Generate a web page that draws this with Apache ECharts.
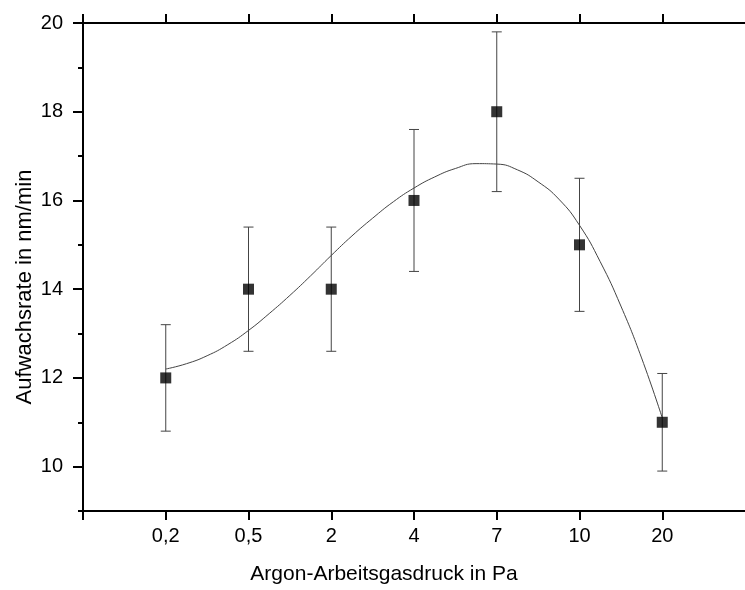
<!DOCTYPE html>
<html>
<head>
<meta charset="utf-8">
<script src="https://cdn.jsdelivr.net/npm/echarts@6/dist/echarts.min.js"></script>
<style>
html,body{margin:0;padding:0;background:#fff;}
#chart{width:745px;height:590px;}
</style>
</head>
<body>
<div id="chart"></div>
<script>
// Categories (pressure in Pa) placed at positions 1..7
var categories = ['0,2', '0,5', '2', '4', '7', '10', '20'];
var positions = [1, 2, 3, 4, 5, 6, 7];
// Measured growth rate (nm/min) and error (+/-)
var rates = [12, 14, 14, 16, 18, 15, 11];
var errors = [1.2, 1.4, 1.4, 1.6, 1.8, 1.5, 1.1];
// Fit curve (position, value)
var curveX = [1.0, 1.25, 1.5, 1.75, 2.0, 2.25, 2.5, 2.75, 3.0, 3.25, 3.5, 3.75, 4.0, 4.25, 4.5, 4.75, 5.0, 5.25, 5.5, 5.75, 6.0, 6.25, 6.5, 6.75, 7.0];
var curveY = [12.2, 12.32, 12.5, 12.75, 13.07, 13.45, 13.86, 14.3, 14.76, 15.2, 15.6, 15.97, 16.28, 16.53, 16.72, 16.83, 16.82, 16.69, 16.42, 16.03, 15.44, 14.62, 13.62, 12.45, 11.1];
// Tick positions
var xTickPositions = [0, 1, 2, 3, 4, 5, 6, 7];
var yTicks = [10, 12, 14, 16, 18, 20];

var chart = echarts.init(document.getElementById('chart'), null, {renderer: 'canvas'});

var pointData = positions.map(function (p, i) { return [p, rates[i]]; });
var errData = positions.map(function (p, i) { return [p, rates[i] - errors[i], rates[i] + errors[i]]; });
var curveData = curveX.map(function (x, i) { return [x, curveY[i]]; });

var font = 'Liberation Sans, Arial, sans-serif';

var option = {
  animation: false,
  backgroundColor: '#ffffff',
  grid: {left: 83, right: 0, top: 23, bottom: 77, containLabel: false},
  xAxis: [{
    type: 'value', min: 0, max: 8, interval: 1, position: 'bottom',
    name: 'Argon-Arbeitsgasdruck in Pa', nameLocation: 'middle', nameGap: 53, nameMoveOverlap: false,
    nameTextStyle: {fontSize: 21, color: '#000', fontFamily: font, padding: [0, 60, 0, 0]},
    axisLine: {show: true, lineStyle: {color: '#000', width: 2}},
    axisTick: {show: true, inside: false, length: 9, customValues: xTickPositions, lineStyle: {color: '#000', width: 2}},
    axisLabel: {
      margin: 15, fontSize: 20, color: '#000', fontFamily: font, customValues: positions,
      formatter: function (v) { return categories[v - 1] || ''; }
    },
    splitLine: {show: false}
  }, {
    type: 'value', min: 0, max: 8, interval: 1, position: 'top',
    axisLine: {show: true, lineStyle: {color: '#000', width: 2}},
    axisTick: {show: true, inside: false, length: 9, customValues: xTickPositions, lineStyle: {color: '#000', width: 2}},
    axisLabel: {show: false},
    splitLine: {show: false}
  }],
  yAxis: [{
    type: 'value', min: 9, max: 20, interval: 1, position: 'left',
    name: 'Aufwachsrate in nm/min', nameLocation: 'middle', nameGap: 47, nameRotate: 90, nameMoveOverlap: false,
    nameTextStyle: {fontSize: 22, color: '#000', fontFamily: font, padding: [0, 40, 0, 0]},
    axisLine: {show: true, lineStyle: {color: '#000', width: 2}},
    axisTick: {show: true, inside: false, length: 10, customValues: yTicks, lineStyle: {color: '#000', width: 2}},
    axisLabel: {margin: 20, fontSize: 20, color: '#000', fontFamily: font, customValues: yTicks},
    splitLine: {show: false}
  }, {
    type: 'value', min: 9, max: 20, interval: 1, position: 'left',
    axisLine: {show: false},
    axisTick: {show: true, inside: false, length: 5, lineStyle: {color: '#000', width: 2}},
    axisLabel: {show: false},
    splitLine: {show: false}
  }],
  series: [{
    type: 'custom',
    name: 'Fehler',
    xAxisIndex: 0, yAxisIndex: 0,
    data: errData,
    renderItem: function (params, api) {
      var x = api.value(0);
      var lo = api.coord([x, api.value(1)]);
      var hi = api.coord([x, api.value(2)]);
      var hw = 5;
      var st = {stroke: '#444', lineWidth: 1};
      return {
        type: 'group',
        children: [
          {type: 'line', shape: {x1: lo[0], y1: lo[1], x2: hi[0], y2: hi[1]}, style: st},
          {type: 'line', shape: {x1: lo[0] - hw, y1: lo[1], x2: lo[0] + hw, y2: lo[1]}, style: st},
          {type: 'line', shape: {x1: hi[0] - hw, y1: hi[1], x2: hi[0] + hw, y2: hi[1]}, style: st}
        ]
      };
    },
    z: 2
  }, {
    type: 'line',
    name: 'Fit',
    data: curveData,
    smooth: true,
    showSymbol: false,
    symbol: 'none',
    lineStyle: {color: '#444', width: 1},
    z: 3
  }, {
    type: 'scatter',
    name: 'Aufwachsrate',
    data: pointData,
    symbol: 'rect',
    symbolSize: 11,
    itemStyle: {color: '#000'},
    z: 4
  }]
};
chart.setOption(option);
</script>
</body>
</html>
